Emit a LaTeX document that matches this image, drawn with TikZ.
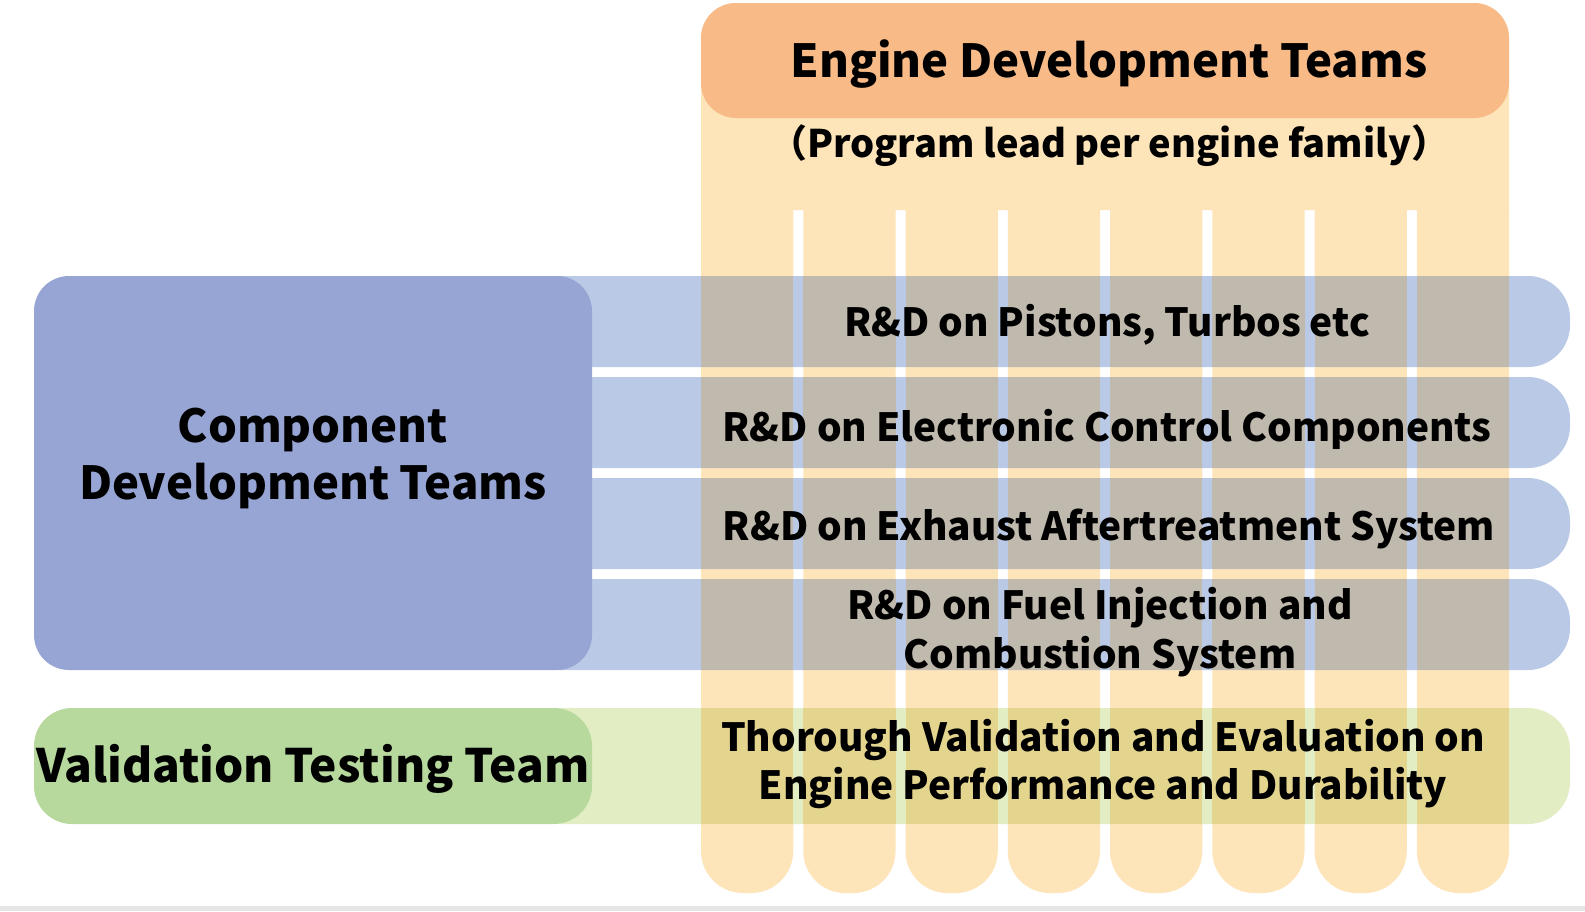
\documentclass[tikz,border=0pt]{standalone}
\usepackage{fontspec}
\setmainfont{Noto Sans CJK JP}
\definecolor{hdrorange}{HTML}{F8BB87}
\definecolor{colorange}{HTML}{FDE4B9}
\definecolor{boxblue}{HTML}{97A5D4}
\definecolor{barblue}{HTML}{B9C9E6}
\definecolor{overgray}{HTML}{C0B9AD}
\definecolor{boxgreen}{HTML}{B7D99D}
\definecolor{bargreen}{HTML}{E3EDC4}
\definecolor{overkhaki}{HTML}{E4D58E}
\definecolor{edgegray}{HTML}{E6E6E6}
\begin{document}
\begin{tikzpicture}[x=1pt,y=-1pt,
  txt/.style={inner sep=0pt, align=center, text=black, font=\bfseries\fontsize{#1}{#1}\selectfont},
  rowtxt/.style={inner sep=0pt, align=center, text=black, font=\bfseries\fontsize{38.8}{48.5}\selectfont}]
\useasboundingbox (0,0) rectangle (1585,911);
\fill[white] (0,0) rectangle (1585,911);
\fill[edgegray] (0,906) rectangle (1585,911);
% top band of engine teams
\fill[colorange, rounded corners=35] (701,210) -- (701,3) -- (1509,3) -- (1509,210);
% columns
\foreach \c in {0,...,7}{
  \pgfmathsetmacro\xa{701+\c*102.25}
  \pgfmathsetmacro\xb{\xa+92.25}
  \fill[colorange, rounded corners=42] (\xa,209.5) -- (\xa,893) -- (\xb,893) -- (\xb,209.5);
}
% blue bars
\foreach \y in {276,377,478,579}{
  \fill[barblue, rounded corners=42] (560,\y) -- (1570,\y) -- (1570,\y+91) -- (560,\y+91);
}
% green bar
\fill[bargreen, rounded corners=42] (560,708) -- (1570,708) -- (1570,824) -- (560,824);
% overlaps
\foreach \c in {0,...,7}{
  \pgfmathsetmacro\xa{701+\c*102.25}
  \foreach \y in {276,377,478,579}{
    \fill[overgray] (\xa,\y) rectangle ++(92.25,91);
  }
  \fill[overkhaki] (\xa,708) rectangle ++(92.25,116);
}
% header
\fill[hdrorange, rounded corners=35] (701,3) rectangle (1509,118);
% left boxes
\fill[boxblue, rounded corners=35] (34,276) rectangle (592,670);
\fill[boxgreen, rounded corners=38] (34,708) rectangle (592,824);
% texts
\node[txt=45.5] (hdr) at (1109,64) {Engine Development Teams};
\node[txt=38] (sub) at (1109,146) {（Program lead per engine family）};
\node[txt=45.5, font=\bfseries\fontsize{45.5}{57}\selectfont] (comp) at (313,458) {Component\\Development Teams};
\node[txt=46] (valid) at (313,769) {Validation Testing Team};
\node[rowtxt] (r1) at (1107,325) {R\&D on Pistons, Turbos etc};
\node[rowtxt] (r2) at (1107,429) {R\&D on Electronic Control Components};
\node[rowtxt] (r3) at (1109,529) {R\&D on Exhaust Aftertreatment System};
\node[rowtxt] (r4) at (1100,632) {R\&D on Fuel Injection and\\Combustion System};
\node[rowtxt] (r5) at (1103,764) {Thorough Validation and Evaluation on\\Engine Performance and Durability};
\end{tikzpicture}
\end{document}
